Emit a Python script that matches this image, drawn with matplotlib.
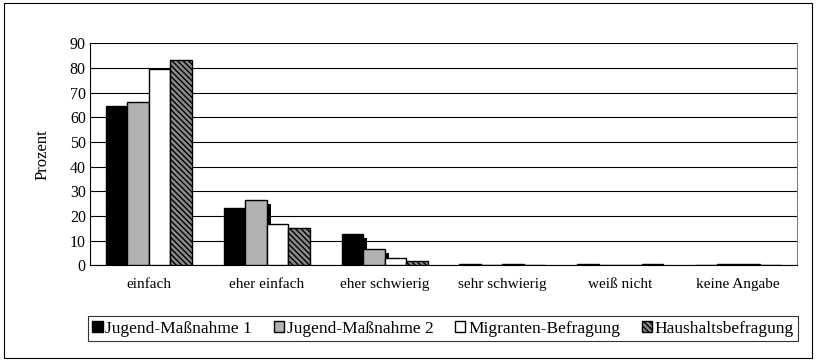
import matplotlib
matplotlib.use("Agg")
import matplotlib.pyplot as plt
import matplotlib.patheffects as pe
from matplotlib.patches import Rectangle
import numpy as np

plt.rcParams["font.family"] = ["Liberation Serif", "DejaVu Serif"]
plt.rcParams["hatch.linewidth"] = 1.0
plt.rcParams["hatch.color"] = "black"

categories = ["einfach", "eher einfach", "eher schwierig", "sehr schwierig",
              "weiß nicht", "keine Angabe"]
jugend1 = [64.6, 23.1, 12.7, 0.5, 0.5, 0.0]
jugend2 = [66.1, 26.6, 6.8, 0.0, 0.0, 0.8]
migranten = [79.5, 17.0, 3.2, 0.5, 0.0, 0.5]
haushalt = [83.4, 15.0, 1.8, 0.0, 0.6, 0.0]
series_names = ["Jugend-Maßnahme 1", "Jugend-Maßnahme 2",
                "Migranten-Befragung", "Haushaltsbefragung"]
yticks = list(range(0, 100, 10))

fig = plt.figure(figsize=(8.16, 3.62), dpi=100)
ax = fig.add_axes([0.1103, 0.2666, 0.8664, 0.6134])

x = np.arange(len(categories))
w = 0.1825
styles = [
    dict(color="black", edgecolor="black"),
    dict(color="#b2b2b2", edgecolor="black"),
    dict(color="white", edgecolor="black"),
    dict(color="#8a8a8a", edgecolor="black", hatch="\\\\\\\\\\\\"),
]
shadow = [pe.SimplePatchShadow(offset=(2.9, -2.9), shadow_rgbFace="black", alpha=1.0),
          pe.Normal()]
data = [jugend1, jugend2, migranten, haushalt]
for i, (vals, st, name) in enumerate(zip(data, styles, series_names)):
    bars = ax.bar(x + (i - 1.5) * w, vals, width=w, linewidth=1.0, label=name,
                  zorder=3 + i, **st)
    if i < 3:
        for b in bars:
            if b.get_height() > 1.0:
                b.set_path_effects(shadow)

ax.set_xlim(-0.5, len(categories) - 0.5)
ax.set_ylim(0, 90)
ax.set_yticks(yticks)
ax.set_xticks(x)
ax.set_xticklabels(categories, fontsize=11)
ax.tick_params(axis="y", length=0, pad=3, labelsize=11.5)
ax.tick_params(axis="x", length=0, pad=9)
ax.yaxis.grid(True, color="black", linewidth=0.8, zorder=0)
ax.set_axisbelow(True)
ax.spines["top"].set_visible(False)
ax.spines["right"].set_color("#808080")
ax.spines["right"].set_linewidth(0.8)
ax.spines["left"].set_linewidth(0.8)
ax.spines["bottom"].set_linewidth(0.8)
ax.set_ylabel("Prozent", fontsize=12, labelpad=14)

leg = fig.legend(loc="center", bbox_to_anchor=(0.543, 0.0925), ncol=4,
                 fontsize=12.5, frameon=True, fancybox=False, edgecolor="black",
                 handlelength=0.6, handleheight=0.6, handletextpad=0.15,
                 columnspacing=1.25, borderpad=0.25)
leg.get_frame().set_linewidth(0.8)
for h in leg.legend_handles:
    h.set_path_effects([])

fig.patches.append(Rectangle((0.005, 0.012), 0.99, 0.98, transform=fig.transFigure,
                             fill=False, edgecolor="black", linewidth=0.8))

fig.savefig("out.png", dpi=100)
